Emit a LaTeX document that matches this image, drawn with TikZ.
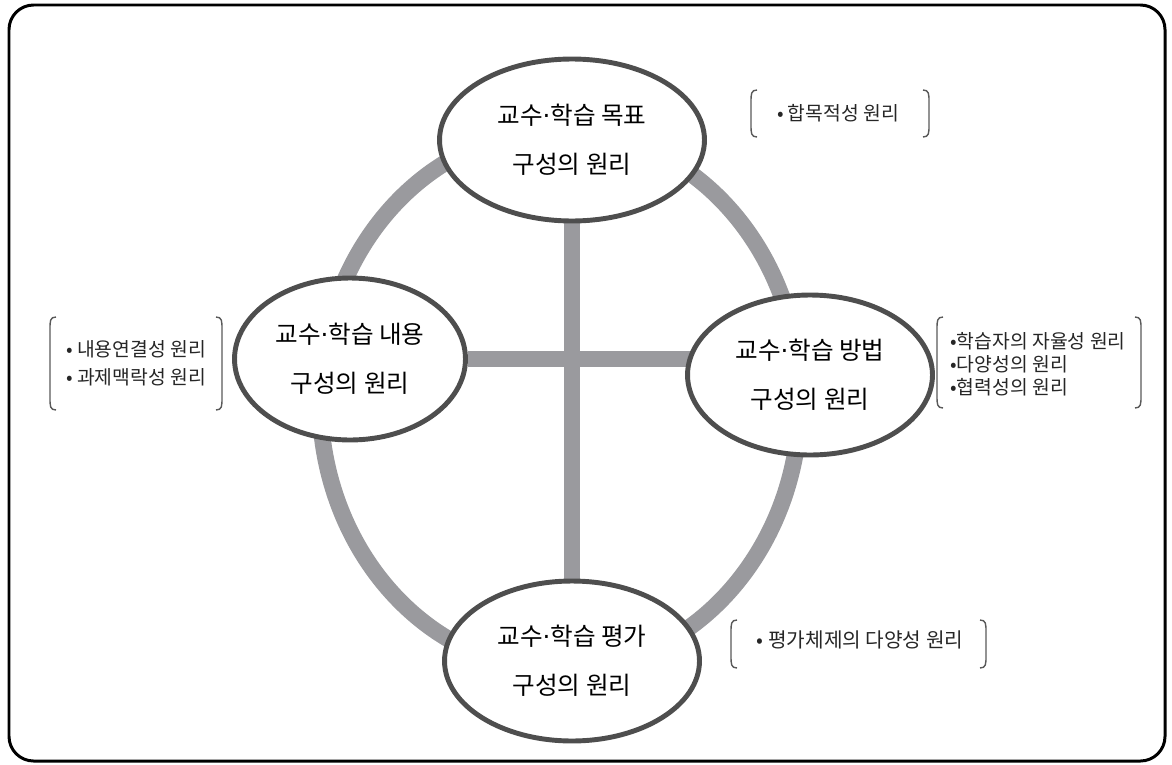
\documentclass[tikz,border=0pt]{standalone}
\usepackage{fontspec}
\setmainfont{Noto Sans CJK KR}
\newfontfamily\dotfont{DejaVu Sans}
\usetikzlibrary{shapes.geometric,backgrounds}

\definecolor{linegray}{HTML}{9A9A9E}
\definecolor{rimgray}{HTML}{4E4E4E}

\newcommand{\gaundot}{{\dotfont ·}}

\tikzset{
  principle/.style={ellipse, draw=rimgray, line width=2.8pt, fill=white, inner sep=0pt,
    align=center, text=black, font=\fontsize{14}{28}\selectfont},
  rope/.style={draw=linegray, line width=9.5pt},
  notes/.style={align=left, text=black!85, inner sep=0pt, font=\fontsize{11}{16}\selectfont},
  brace/.style={draw=black!65, line width=0.8pt}
}

% left x, right x, top y, bottom y
\newcommand{\bracketpair}[4]{%
  \draw[brace] (#1+6,#3) .. controls (#1,#3) and (#1,#3+4) .. (#1,#3+12)
    -- (#1,#4-12) .. controls (#1,#4-4) and (#1,#4) .. (#1+6,#4);
  \draw[brace] (#2-6,#3) .. controls (#2,#3) and (#2,#3+4) .. (#2,#3+12)
    -- (#2,#4-12) .. controls (#2,#4-4) and (#2,#4) .. (#2-6,#4);
}

\begin{document}
\begin{tikzpicture}[x=0.02cm, y=-0.02cm]
\useasboundingbox (0,0) rectangle (1172,764);
\draw[line width=1.7pt, rounded corners=14pt] (9,5) rectangle (1165,761);

% four principles
\node[principle, minimum width=5.3cm, minimum height=3.24cm] (goal) at (572,140) {교수\gaundot 학습 목표\\구성의 원리};
\node[principle, minimum width=4.62cm, minimum height=3.24cm] (content) at (350,359) {교수\gaundot 학습 내용\\구성의 원리};
\node[principle, minimum width=4.9cm, minimum height=3.2cm] (method) at (810,375) {교수\gaundot 학습 방법\\구성의 원리};
\node[principle, minimum width=5.1cm, minimum height=3.2cm] (eval) at (572,661) {교수\gaundot 학습 평가\\구성의 원리};

\begin{scope}[on background layer]
\draw[rope] (560,400) ellipse [x radius=240, y radius=270];
\draw[rope] (goal) -- (eval);
\draw[rope] (content) -- (content -| method);
\end{scope}

% notes in brackets
\node[notes] (goalnote) at (838,113) {• 합목적성 원리};
\bracketpair{751}{929}{90}{137}
\node[notes] (contentnote) at (136,363) {• 내용연결성 원리\\• 과제맥락성 원리};
\bracketpair{50}{222}{317}{410}
\node[notes, font=\fontsize{11}{13}\selectfont] (methodnote) at (1038,364) {•학습자의 자율성 원리\\•다양성의 원리\\•협력성의 원리};
\bracketpair{937}{1141}{317}{408}
\node[notes, font=\fontsize{11.5}{16}\selectfont] (evalnote) at (860,640) {• 평가체제의 다양성 원리};
\bracketpair{731}{986}{620}{668}
\end{tikzpicture}
\end{document}
